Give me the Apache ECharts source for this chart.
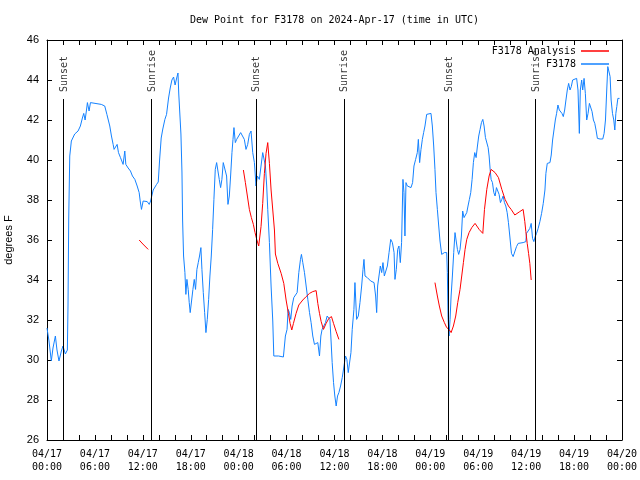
<!DOCTYPE html>
<html><head><meta charset="utf-8">
<script src="https://cdn.jsdelivr.net/npm/echarts@6/dist/echarts.min.js"></script>
<style>html,body{margin:0;padding:0;background:#fff}#c{width:640px;height:480px}</style>
</head><body><div id="c"></div>
<script>
const titleText = 'Dew Point for F3178 on 2024-Apr-17 (time in UTC)';
const yAxisName = 'degrees F';
const xTickLabels = ['04/17\n00:00','04/17\n06:00','04/17\n12:00','04/17\n18:00','04/18\n00:00','04/18\n06:00','04/18\n12:00','04/18\n18:00','04/19\n00:00','04/19\n06:00','04/19\n12:00','04/19\n18:00','04/20\n00:00'];
const seriesNames = ['F3178 Analysis', 'F3178'];

// hours since 2024-04-17 00:00 UTC
const obsHours = [0,0.25,0.54,0.75,1.05,1.25,1.5,1.8,2.0,2.3,2.55,2.63,2.72,2.85,3.05,3.47,3.89,4.18,4.43,4.6,4.77,4.93,5.06,5.27,5.44,5.65,6.8,7.23,7.5,7.86,8.07,8.28,8.4,8.6,8.78,8.95,9.2,9.53,9.74,9.87,10.16,10.45,10.7,11.0,11.29,11.54,11.67,11.83,12.04,12.25,12.55,12.8,12.97,13.3,13.72,13.93,
14.1,14.3,14.5,14.76,14.97,15.22,15.43,15.64,15.85,16.04,16.24,16.4,16.5,16.77,16.9,16.98,17.1,17.27,17.39,17.52,17.68,17.81,17.93,18.1,18.27,18.44,18.6,18.77,18.94,19.1,19.27,19.4,19.57,19.74,19.9,20.07,20.24,20.4,20.57,20.74,20.9,21.07,21.24,21.4,21.57,21.74,21.9,22.07,22.32,22.49,22.66,22.83,22.99,23.16,23.29,23.41,23.58,23.75,24.0,24.25,24.5,24.71,24.92,25.13,25.34,25.55,25.76,25.97,26.09,26.17,26.34,26.59,26.8,27.01,27.22,27.35,27.51,27.64,27.85,28.06,28.27,28.4,28.6,29.0,29.6,29.85,
30.06,30.19,30.36,30.52,30.69,30.9,31.11,31.32,31.53,31.74,31.86,32.03,32.24,32.45,32.66,32.87,33.07,33.28,33.49,33.7,33.91,34.12,34.29,34.45,34.66,34.87,35.08,35.29,35.42,35.54,35.71,35.88,36.04,36.21,36.38,36.55,36.76,36.97,37.18,37.38,37.55,37.72,37.89,38.06,38.22,38.43,38.56,38.77,38.98,39.19,39.4,39.57,39.69,39.82,40.11,40.53,40.95,41.15,41.28,41.4,41.57,41.74,41.91,42.07,42.24,42.41,42.62,42.83,43.04,43.25,43.46,43.57,43.74,43.91,44.07,44.24,44.4,44.57,44.7,44.82,44.95,45.12,45.33,45.58,45.78,45.95,46.16,46.37,46.5,46.66,46.83,47.0,47.16,47.33,47.54,47.75,48.08,48.25,48.42,48.58,48.71,48.88,49.05,49.21,49.42,49.76,50.05,50.13,50.22,50.34,50.47,50.6,50.76,50.93,51.09,51.26,51.39,51.55,51.72,51.89,52.05,52.22,52.39,52.56,52.72,52.89,53.06,53.23,53.39,53.56,53.73,53.9,54.06,54.23,54.4,54.57,54.73,54.9,55.07,55.24,55.36,55.49,55.61,55.78,55.95,56.11,56.28,56.45,56.61,56.78,56.95,57.12,57.28,57.45,57.62,57.78,57.95,58.16,58.37,58.58,58.79,59.0,59.2,59.62,59.96,
60.04,60.25,60.46,60.63,60.8,60.96,61.13,61.3,61.5,61.72,61.93,62.14,62.35,62.47,62.64,62.98,63.14,63.31,63.48,63.65,63.81,63.98,64.15,64.32,64.48,64.65,64.82,64.98,65.15,65.32,65.49,65.65,65.82,65.99,66.32,66.49,66.66,66.78,66.95,67.08,67.25,67.41,67.58,67.75,67.92,68.08,68.25,68.42,68.59,68.75,68.92,69.25,69.59,69.76,69.93,70.09,70.22,70.39,70.51,70.64,70.81,70.97,71.1,71.23,71.35,71.48,71.69];
const obsValues = [31.6,30.95,29.95,30.6,31.2,30.5,29.95,30.45,30.7,30.3,30.5,32.7,37.1,40.2,40.95,41.3,41.45,41.7,42.1,42.33,42.0,42.45,42.87,42.45,42.87,42.78,42.78,42.7,42.28,41.7,41.2,40.78,40.53,40.45,40.78,40.37,40.12,39.78,40.45,39.78,39.6,39.45,39.2,39.03,38.7,38.37,37.95,37.53,37.95,37.87,37.92,37.78,37.95,38.5,38.78,38.9,
40.0,41.1,41.55,42.03,42.28,43.1,43.6,44.0,44.15,43.75,44.1,44.35,43.3,41.3,39.4,37.0,35.2,34.37,33.28,34.03,33.53,32.87,32.37,32.95,33.53,34.03,33.53,34.53,34.87,35.2,35.62,34.53,33.37,32.37,31.37,32.03,33.03,34.2,35.2,36.53,38.03,39.53,39.87,39.87,39.03,38.62,39.03,39.87,39.87,39.2,37.78,38.2,39.2,40.37,41.03,41.62,40.87,41.03,41.2,41.37,41.28,41.03,40.53,40.78,41.28,41.45,40.37,39.87,39.2,38.7,39.2,39.03,39.7,40.37,40.28,39.7,38.7,37.53,35.87,33.7,31.95,30.2,30.2,30.2,30.15,31.2,
31.53,32.53,32.37,32.03,32.7,33.12,33.03,33.37,34.37,35.03,35.28,34.87,34.37,33.7,33.03,32.37,31.87,31.2,30.78,30.7,30.87,30.2,31.2,31.53,31.7,31.87,32.2,32.28,32.03,31.2,29.87,28.87,28.2,27.7,28.2,28.37,28.7,29.12,29.2,30.2,30.03,29.37,29.28,30.37,31.53,32.53,33.87,32.03,32.2,32.87,33.7,34.53,35.03,34.2,34.12,33.95,33.87,33.2,32.37,33.7,34.2,34.7,34.37,34.87,34.2,34.2,34.7,35.37,36.03,35.87,35.37,34.03,34.53,35.53,35.7,34.87,35.87,39.03,38.37,36.2,38.87,38.7,38.62,38.62,38.87,39.7,40.03,40.37,41.03,39.87,40.53,41.03,41.37,41.7,42.28,42.33,42.33,41.7,40.7,39.53,38.37,37.53,36.7,35.95,35.28,35.37,35.37,34.37,32.12,31.2,32.03,33.2,34.2,35.37,36.37,36.28,35.53,35.28,35.53,36.2,37.45,37.12,37.03,37.37,37.7,38.03,38.37,39.03,39.87,40.37,40.12,40.7,41.2,41.53,41.87,42.03,41.7,41.12,41.03,40.62,40.2,39.53,39.03,38.87,38.37,38.2,38.62,38.62,38.28,37.87,38.03,38.2,37.87,37.7,37.37,36.87,36.2,35.33,35.17,35.08,35.67,35.83,35.87,35.87,35.92,
36.33,36.42,36.58,36.83,36.08,35.92,36.17,36.33,36.58,36.92,37.33,37.83,38.5,39.33,39.83,39.87,40.25,41.0,41.5,42.0,42.33,42.75,42.5,42.58,42.33,42.17,42.5,43.0,43.5,43.83,43.5,43.67,44.0,44.08,44.08,43.5,41.33,43.5,44.0,43.5,44.08,43.33,42.0,42.33,42.83,42.75,42.42,42.0,41.83,41.5,41.08,41.05,41.05,41.33,42.0,43.5,44.67,44.75,44.17,43.0,42.33,42.0,41.5,42.33,42.67,43.08,43.08];

// analysis (null = gap)
const anaHours = [11.54,12.0,12.67,18,
24.59,24.84,25.09,25.34,25.59,25.84,26.05,26.26,26.51,26.6,26.8,27.01,27.22,27.43,27.64,27.85,28.06,28.27,28.48,28.6,28.9,29.32,29.65,29.94,30.23,30.44,30.65,30.86,31.19,31.53,32.03,32.45,32.87,33.28,33.7,33.91,34.12,34.33,34.62,34.95,35.29,35.62,35.88,36.21,36.55,42,
48.58,48.88,49.13,49.42,49.76,50.05,50.34,50.6,50.89,51.18,51.43,51.72,51.93,52.14,52.35,52.56,52.85,53.19,53.6,54.11,54.57,54.78,55.07,55.36,55.61,56.11,56.53,56.95,57.36,57.78,58.12,58.58,59.2,59.62,59.83,59.96,60.13,60.3,60.46,60.63];
const anaValues = [36.0,35.8,35.53,null,
39.5,38.87,38.2,37.53,37.12,36.78,36.37,36.03,35.7,35.6,36.67,37.83,39.33,40.33,40.87,39.83,38.5,37.5,36.5,35.3,34.83,34.33,33.83,33.0,32.33,31.83,31.5,31.83,32.33,32.75,33.0,33.17,33.33,33.42,33.47,32.83,32.33,31.92,31.53,31.83,32.08,32.17,31.83,31.42,31.03,null,
33.87,33.2,32.7,32.2,31.87,31.62,31.53,31.37,31.7,32.2,32.87,33.53,34.2,34.87,35.53,36.03,36.37,36.62,36.83,36.53,36.33,37.53,38.53,39.2,39.53,39.37,39.12,38.53,38.03,37.7,37.53,37.25,37.42,37.53,36.92,36.42,35.83,35.33,34.83,34.0];

const sunHours = [2.09, 13.09, 26.14, 37.17, 50.22, 61.13];
const sunLabels = ['Sunset', 'Sunrise', 'Sunset', 'Sunrise', 'Sunset', 'Sunrise'];

const Y_MIN = 26, Y_MAX = 46, SUN_TOP = 43.05;
const MONO = 'DejaVu Sans Mono';
const SANS = 'Liberation Sans';

const obsData = obsHours.map((h, i) => [h, obsValues[i]]);
const anaData = anaHours.map((h, i) => [h, anaValues[i]]);
const sunLineData = sunHours.map(h => [{coord: [h, Y_MIN]}, {coord: [h, SUN_TOP]}]);
const sunLabelData = sunHours.map((h, i) => ({value: [h, SUN_TOP], name: sunLabels[i]}));

const xCommon = {type: 'value', min: 0, max: 72, interval: 6,
  axisLine: {show: true, onZero: false, lineStyle: {color: '#000', width: 1}},
  axisTick: {show: true, inside: true, length: 5, lineStyle: {color: '#000'}},
  minorTick: {show: true, splitNumber: 3, length: 5, lineStyle: {color: '#000'}},
  splitLine: {show: false}};
const yCommon = {type: 'value', min: Y_MIN, max: Y_MAX, interval: 2,
  axisLine: {show: true, onZero: false, lineStyle: {color: '#000', width: 1}},
  axisTick: {show: true, inside: true, length: 5, lineStyle: {color: '#000'}},
  splitLine: {show: false}};

const chart = echarts.init(document.getElementById('c'), null, {renderer: 'canvas'});
chart.setOption({
  animation: false,
  backgroundColor: '#fff',
  title: {text: titleText, left: 185, top: 10,
    textStyle: {fontFamily: MONO, fontSize: 10, fontWeight: 'normal', color: '#000'}},
  grid: {left: 47, right: 18, top: 40, bottom: 40, show: false, containLabel: false, outerBoundsMode: 'none'},
  legend: {orient: 'vertical', right: 26, top: 40, align: 'right', itemWidth: 28, itemHeight: 1.5,
    itemGap: 1, icon: 'rect', data: seriesNames,
    textStyle: {fontFamily: MONO, fontSize: 10, color: '#000', lineHeight: 12}},
  xAxis: [
    Object.assign({}, xCommon, {position: 'bottom',
      axisLabel: {show: true, margin: 8, fontFamily: MONO, fontSize: 10, color: '#000', lineHeight: 13,
        showMinLabel: true, showMaxLabel: true, hideOverlap: false,
        formatter: v => xTickLabels[Math.round(v / 6)]}}),
    Object.assign({}, xCommon, {position: 'top', axisLabel: {show: false}})
  ],
  yAxis: [
    Object.assign({}, yCommon, {position: 'left', name: yAxisName, nameLocation: 'middle', nameGap: 33,
      nameTextStyle: {fontFamily: SANS, fontSize: 11, color: '#000'},
      axisLabel: {show: true, margin: 8, fontFamily: SANS, fontSize: 11, color: '#000'}}),
    Object.assign({}, yCommon, {position: 'right', axisLabel: {show: false}})
  ],
  series: [
    {name: seriesNames[0], type: 'line', data: anaData, showSymbol: false, connectNulls: false,
      lineStyle: {color: '#ff0000', width: 1}, itemStyle: {color: '#ff0000'}, z: 3},
    {name: seriesNames[1], type: 'line', data: obsData, showSymbol: false,
      lineStyle: {color: '#1482ff', width: 1}, itemStyle: {color: '#1482ff'}, z: 2},
    {name: 'sun', type: 'scatter', data: sunLabelData, symbolSize: 0, silent: true,
      label: {show: true, formatter: p => p.name, rotate: 90, position: [1, -7],
        align: 'left', verticalAlign: 'middle', fontFamily: MONO, fontSize: 10, color: '#000'},
      markLine: {silent: true, symbol: ['none', 'none'], label: {show: false},
        lineStyle: {color: '#000', width: 1, type: 'solid'}, data: sunLineData}, z: 1}
  ]
});
</script></body></html>
